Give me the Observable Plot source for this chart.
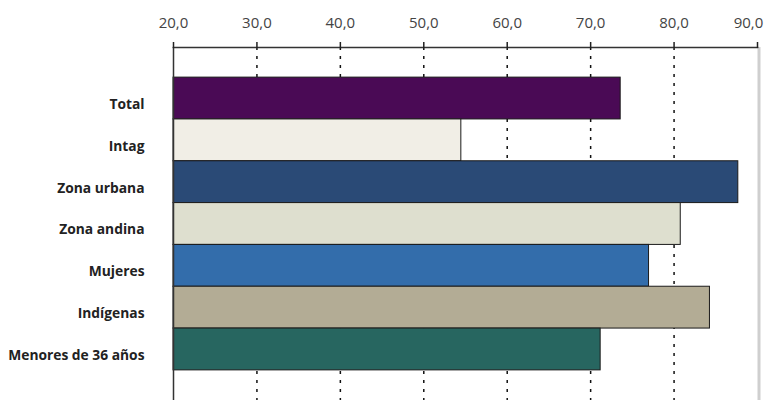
<!DOCTYPE html>
<html>
<head>
<meta charset="utf-8">
<script src="https://cdn.jsdelivr.net/npm/d3@7"></script>
<script src="https://cdn.jsdelivr.net/npm/@observablehq/plot@0.6"></script>
<style>
  html, body { margin: 0; padding: 0; background: #fff; }
  #chart svg { display: block; }
</style>
</head>
<body>
<div id="chart"></div>
<script>
const categories = ["Total", "Intag", "Zona urbana", "Zona andina", "Mujeres", "Indígenas", "Menores de 36 años"];
const values = [73.6, 54.5, 87.7, 80.8, 77.0, 84.3, 71.2];
const colors = ["#4a0a55", "#f1eee6", "#2a4a76", "#dedfcf", "#336dab", "#b3ac95", "#276660"];
const tickValues = [20, 30, 40, 50, 60, 70, 80, 90];

const data = categories.map((c, i) => ({cat: c, value: values[i], color: colors[i]}));
const fmt = d => d.toFixed(1).replace(".", ",");

const chart = Plot.plot({
  width: 767,
  height: 400,
  marginTop: 47,
  marginLeft: 173,
  marginRight: 10,
  marginBottom: 0,
  style: {fontFamily: "'Open Sans', sans-serif", background: "#fff"},
  x: {domain: [20, 90], axis: null},
  y: {domain: categories, paddingInner: 0, paddingOuter: 0.72, round: false, axis: null},
  marks: [
    Plot.ruleX(tickValues.slice(1, -1), {stroke: "#111", strokeWidth: 1.5, strokeDasharray: "3,6"}),
    Plot.ruleX([90], {stroke: "#cfcfcf", strokeWidth: 3, dx: 1.5}),
    Plot.barX(data, {x1: () => 20, x2: "value", y: "cat", fill: "color", stroke: "#1a1a1a", strokeWidth: 1}),
    Plot.ruleX([20], {stroke: "#333", strokeWidth: 1.5}),
    Plot.frame({anchor: "top", stroke: "#333", strokeWidth: 1.5}),
    Plot.axisX(tickValues, {anchor: "top", tickSize: 6, tickFormat: () => "", stroke: "#222", strokeWidth: 1.5, label: null}),
    Plot.axisX(tickValues.slice(0, -1), {anchor: "top", tickSize: 0, tickPadding: 20, tickFormat: fmt, fontSize: 15, fill: "#444", label: null}),
    Plot.axisX([90], {anchor: "top", tickSize: 0, tickPadding: 20, tickFormat: fmt, fontSize: 15, fill: "#444", dx: -9, label: null}),
    Plot.axisY({anchor: "left", tickSize: 0, tickPadding: 29, dy: 6, fontSize: 13.8, fontWeight: "bold", fill: "#222", label: null})
  ]
});
document.getElementById("chart").appendChild(chart);
</script>
</body>
</html>
